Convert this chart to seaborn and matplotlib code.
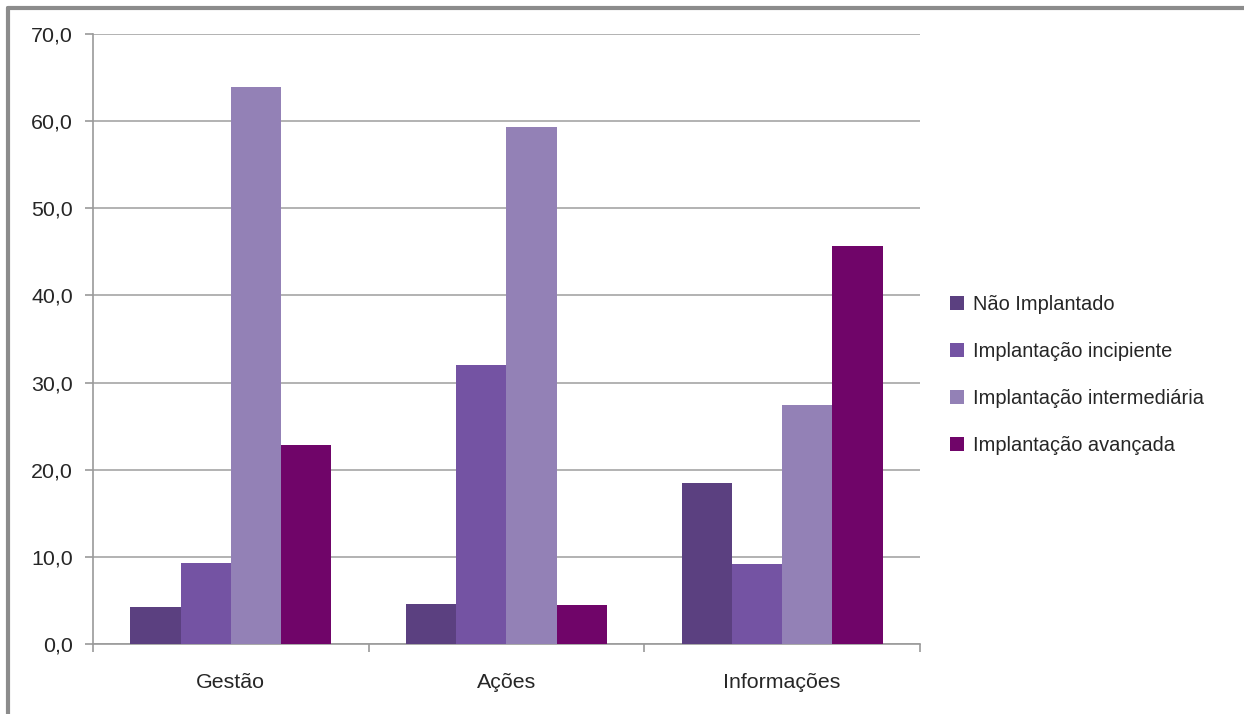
import matplotlib
matplotlib.use("Agg")
import matplotlib.pyplot as plt
from matplotlib.lines import Line2D
from matplotlib.patches import Patch
import seaborn as sns
import pandas as pd

categories = ["Gestão", "Ações", "Informações"]
series = ["Não Implantado", "Implantação incipiente",
          "Implantação intermediária", "Implantação avançada"]
nao_implantado = [4.2, 4.6, 18.5]
incipiente = [9.3, 32.0, 9.2]
intermediaria = [63.9, 59.3, 27.4]
avancada = [22.8, 4.5, 45.7]
yticks = [0, 10, 20, 30, 40, 50, 60, 70]
ytick_labels = ["0,0", "10,0", "20,0", "30,0", "40,0", "50,0", "60,0", "70,0"]
colors = ["#5B4080", "#7453A3", "#9381B6", "#700569"]

rows = []
for s, vals in zip(series, [nao_implantado, incipiente, intermediaria, avancada]):
    for c, v in zip(categories, vals):
        rows.append({"Categoria": c, "Série": s, "Valor": v})
df = pd.DataFrame(rows)

sns.set_theme(style="white")
plt.rcParams["font.family"] = ["Liberation Sans", "DejaVu Sans"]

fig = plt.figure(figsize=(12.44, 7.14), dpi=100)
ax = fig.add_axes([93 / 1244, 1 - 644 / 714, (920 - 93) / 1244, (644 - 34) / 714])

sns.barplot(data=df, x="Categoria", y="Valor", hue="Série", hue_order=series,
            order=categories, palette=colors, ax=ax, width=0.73,
            edgecolor="none", linewidth=0, saturation=1, legend=False, zorder=3)

ax.set_ylim(0, 70)
ax.set_xlim(-0.5, 2.5)
ax.set_yticks(yticks)
ax.set_yticklabels(ytick_labels)
ax.set_xlabel("")
ax.set_ylabel("")

ax.yaxis.grid(True, color="#A6A6A6", linewidth=1.2, zorder=0)
ax.xaxis.grid(False)
ax.set_axisbelow(True)

for side in ["top", "right"]:
    ax.spines[side].set_visible(False)
for side in ["left", "bottom"]:
    ax.spines[side].set_color("#9A9A9A")
    ax.spines[side].set_linewidth(1.2)

ax.tick_params(axis="y", which="major", length=5.5, width=1.2, color="#9A9A9A",
               direction="out", labelsize=15.4, labelcolor="#262626", pad=9, left=True)
ax.tick_params(axis="x", which="major", length=0, labelsize=15.4,
               labelcolor="#262626", pad=21)
ax.set_xticks([-0.5, 0.5, 1.5, 2.5], minor=True)
ax.tick_params(axis="x", which="minor", length=5.5, width=1.2, color="#9A9A9A",
               direction="out", bottom=True)

handles = [Patch(facecolor=c, edgecolor="none", label=s) for c, s in zip(colors, series)]
fig.legend(handles=handles, loc="center left", bbox_to_anchor=(932 / 1244, 1 - 375 / 714),
           frameon=False, fontsize=14.4, handlelength=0.7, handleheight=0.7,
           handletextpad=0.45, labelspacing=1.4, labelcolor="#262626")

# outer frame (left and top edges)
fig.add_artist(Line2D([8 / 1244, 8 / 1244], [0, 1 - 8 / 714], transform=fig.transFigure,
                      color="#8C8C8C", linewidth=3))
fig.add_artist(Line2D([8 / 1244, 1], [1 - 8 / 714, 1 - 8 / 714], transform=fig.transFigure,
                      color="#8C8C8C", linewidth=3))

fig.savefig("out.png", dpi=100, facecolor="white")
